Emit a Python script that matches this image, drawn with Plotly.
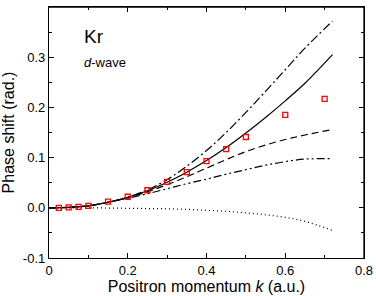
import plotly.graph_objects as go

# Data
k_exp = [0.025, 0.05, 0.075, 0.1, 0.15, 0.2, 0.25, 0.3, 0.35, 0.4, 0.45, 0.5, 0.6, 0.7]
delta_exp = [0.0, 0.001, 0.002, 0.004, 0.0125, 0.022, 0.035, 0.0515, 0.071, 0.093, 0.117, 0.141, 0.185, 0.217]

k_th = [0.0, 0.05, 0.1, 0.15, 0.2, 0.25, 0.3, 0.35, 0.4, 0.45, 0.5, 0.55, 0.6, 0.65, 0.72]
solid = [0.0, 0.001, 0.004, 0.011, 0.021, 0.034, 0.051, 0.071, 0.094, 0.12, 0.149, 0.18, 0.213, 0.248, 0.305]
dashdot = [0.0, 0.001, 0.004, 0.011, 0.021, 0.036, 0.056, 0.083, 0.114, 0.15, 0.19, 0.232, 0.275, 0.318, 0.372]
dashed = [0.0, 0.001, 0.004, 0.011, 0.02, 0.032, 0.046, 0.062, 0.079, 0.096, 0.112, 0.125, 0.136, 0.145, 0.156]
dashdotdot = [0.0, 0.001, 0.004, 0.011, 0.019, 0.028, 0.038, 0.048, 0.057, 0.067, 0.076, 0.085, 0.092, 0.097, 0.098]
dotted = [0.0, 0.0, 0.0, -0.0005, -0.001, -0.0015, -0.002, -0.003, -0.005, -0.007, -0.01, -0.014, -0.019, -0.027, -0.045]

xticks = [0, 0.2, 0.4, 0.6, 0.8]
xticktext = ["0", "0.2", "0.4", "0.6", "0.8"]
yticks = [-0.1, 0.0, 0.1, 0.2, 0.3, 0.4]
yticktext = ["-0.1", "0.0", "0.1", "0.2", "0.3", "0.4"]
xrange_ = [0, 0.8]
yrange_ = [-0.1, 0.4]

fig = go.Figure()
lw = 1.2
fig.add_trace(go.Scatter(x=k_th, y=dotted, mode="lines", line=dict(color="black", width=lw, dash="1px,3px"), line_shape="spline"))
fig.add_trace(go.Scatter(x=k_th, y=dashdotdot, mode="lines", line=dict(color="black", width=lw, dash="8px,3px,2px,3px,2px,3px"), line_shape="spline"))
fig.add_trace(go.Scatter(x=k_th, y=dashed, mode="lines", line=dict(color="black", width=lw, dash="7px,4px"), line_shape="spline"))
fig.add_trace(go.Scatter(x=k_th, y=dashdot, mode="lines", line=dict(color="black", width=lw, dash="9px,3px,2px,3px"), line_shape="spline"))
fig.add_trace(go.Scatter(x=k_th, y=solid, mode="lines", line=dict(color="black", width=lw), line_shape="spline"))
fig.add_trace(go.Scatter(x=k_exp, y=delta_exp, mode="markers",
                         marker=dict(symbol="square-open", size=5, color="#ff0000", line=dict(width=1.3, color="#ff0000"))))

font = "Liberation Sans, Arial, sans-serif"
axis_common = dict(showline=True, linecolor="black", linewidth=1.3, mirror="allticks",
                   ticks="inside", ticklen=5, tickwidth=1, tickcolor="black",
                   showgrid=False, zeroline=False, automargin=False,
                   tickfont=dict(family=font, size=13, color="black"))
fig.update_xaxes(range=xrange_, tickvals=xticks, ticktext=xticktext,
                 minor=dict(ticks="inside", dtick=0.1, tick0=0, ticklen=3, tickcolor="black"),
                 title=dict(text="Positron momentum <i>k</i> (a.u.)", font=dict(family=font, size=16, color="black"), standoff=2),
                 **axis_common)
fig.update_yaxes(range=yrange_, tickvals=yticks, ticktext=yticktext,
                 minor=dict(ticks="inside", dtick=0.05, tick0=0, ticklen=3, tickcolor="black"),
                 title=dict(text="Phase shift (rad.)", font=dict(family=font, size=16, color="black"), standoff=4),
                 **axis_common)

# frame edges (top and right) drawn along the axis ranges
fig.add_shape(type="line", xref="x", yref="y", x0=xrange_[0], x1=xrange_[1], y0=yrange_[1], y1=yrange_[1],
              line=dict(color="black", width=1.3), layer="above")
fig.add_shape(type="line", xref="x", yref="y", x0=xrange_[1], x1=xrange_[1], y0=yrange_[0], y1=yrange_[1],
              line=dict(color="black", width=1.3), layer="above")

fig.add_annotation(x=0.083, y=0.341, xref="x", yref="y", text="Kr", showarrow=False,
                   xanchor="left", yanchor="middle", font=dict(family=font, size=19, color="black"))
fig.add_annotation(x=0.083, y=0.29, xref="x", yref="y", text="<i>d</i>-wave", showarrow=False,
                   xanchor="left", yanchor="middle", font=dict(family=font, size=13, color="black"))

fig.update_layout(width=376, height=296, margin=dict(l=49, r=12, t=7, b=38),
                  plot_bgcolor="white", paper_bgcolor="white", showlegend=False)
fig.write_html("out.html", config={"displayModeBar": False},
               post_script="document.body.style.margin='0';document.body.style.overflow='hidden';")
